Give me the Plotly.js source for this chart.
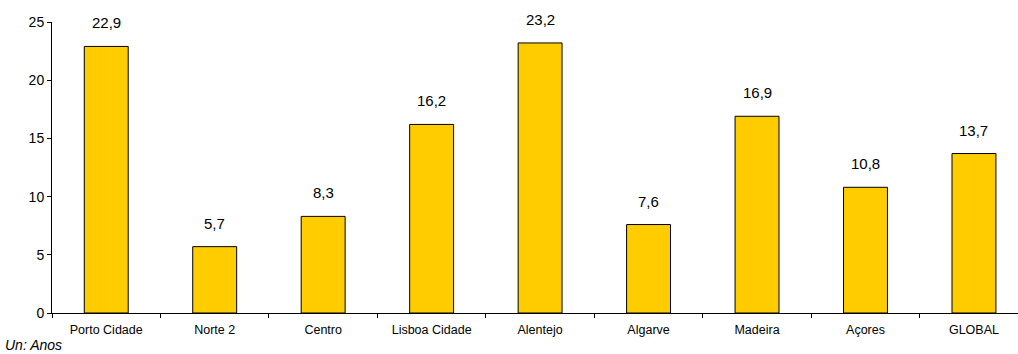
<!DOCTYPE html>
<html>
<head>
<meta charset="utf-8">
<script src="https://cdn.plot.ly/plotly-3.0.1.min.js"></script>
<style>
  html, body { margin: 0; padding: 0; background: #fff; overflow: hidden; }
  #chart { width: 1018px; height: 354px; }
</style>
</head>
<body>
<div id="chart"></div>
<script>
// Regions and the value (in years) for each
const regions = ["Porto Cidade", "Norte 2", "Centro", "Lisboa Cidade", "Alentejo", "Algarve", "Madeira", "Açores", "GLOBAL"];
const years = [22.9, 5.7, 8.3, 16.2, 23.2, 7.6, 16.9, 10.8, 13.7];
const yTicks = [0, 5, 10, 15, 20, 25];

const fmt = v => v.toFixed(1).replace(".", ",");

const bars = {
  type: "bar",
  x: regions,
  y: years,
  width: 0.405,
  marker: { color: "#FFCC00", line: { color: "#000", width: 1 } },
  hoverinfo: "skip"
};

// Value labels above each bar
const valueLabels = regions.map((r, i) => ({
  x: r, y: years[i], xref: "x", yref: "y",
  text: fmt(years[i]), showarrow: false,
  yanchor: "bottom", yshift: 13,
  font: { family: "Liberation Sans, Arial, sans-serif", size: 15, color: "#000" }
}));

const layout = {
  width: 1018, height: 354,
  margin: { l: 52, r: 0, t: 22, b: 41 },
  paper_bgcolor: "#fff", plot_bgcolor: "#fff",
  showlegend: false,
  bargap: 0,
  xaxis: {
    type: "category",
    range: [-0.5, 8.406],
    tickson: "boundaries",
    ticks: "outside", ticklen: 4, tickcolor: "#000",
    ticklabelstandoff: 5,
    showline: true, linecolor: "#000", linewidth: 1,
    showgrid: false, zeroline: false,
    tickfont: { family: "Liberation Sans, Arial, sans-serif", size: 12.5, color: "#000" },
    fixedrange: true
  },
  yaxis: {
    range: [0, 25],
    tickvals: yTicks,
    ticktext: yTicks.map(String),
    ticks: "outside", ticklen: 4, tickcolor: "#000",
    showline: true, linecolor: "#000", linewidth: 1,
    showgrid: false, zeroline: false,
    tickfont: { family: "Liberation Sans, Arial, sans-serif", size: 14, color: "#000" },
    fixedrange: true
  },
  annotations: valueLabels.concat([{
    xref: "paper", yref: "paper", x: -0.051, y: -0.11,
    xanchor: "left", yanchor: "middle",
    text: "<i>Un: Anos</i>", showarrow: false,
    font: { family: "Liberation Sans, Arial, sans-serif", size: 14, color: "#000" }
  }])
};

Plotly.newPlot("chart", [bars], layout, { displayModeBar: false, staticPlot: true });
</script>
</body>
</html>
